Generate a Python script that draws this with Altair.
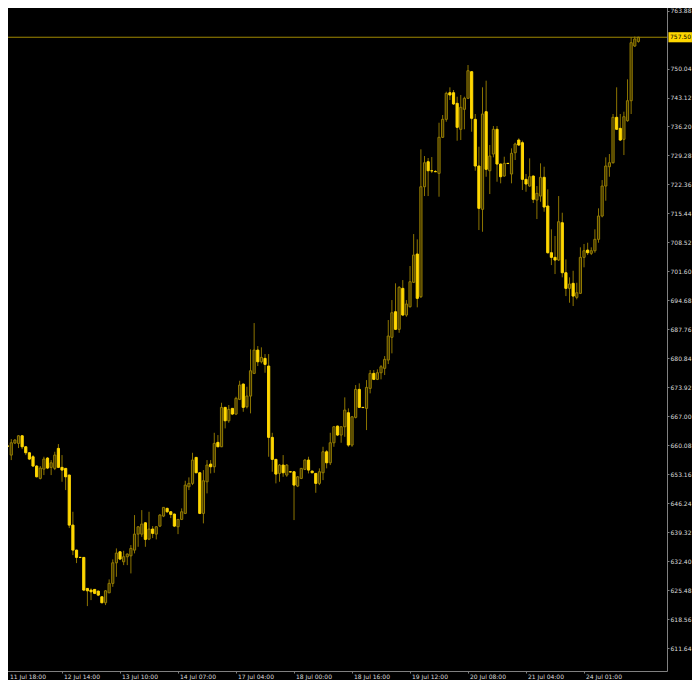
import altair as alt
import pandas as pd

# ---------------- data (H1 bars) ----------------
opens = [
    662.56, 660.72, 659.95, 657.78, 660.65, 660.57, 662.39, 659.76, 658.33, 657.38,
    655.16, 652.22, 654.44, 657.07, 654.85, 654.61, 659.38, 654.85, 654.61, 653.01,
    641.07, 635.10, 633.36, 633.36, 625.96, 625.56, 625.72, 625.32, 623.96, 622.53,
    624.91, 627.16, 632.07, 634.70, 632.31, 633.51, 633.74, 635.10, 638.92, 638.92,
    641.62, 637.73, 640.12, 638.92, 640.83, 643.22, 645.06, 644.25, 643.70, 640.67,
    642.43, 643.86, 650.21, 651.03, 657.23, 653.56, 643.86, 651.41, 655.63, 654.99,
    660.81, 659.76, 669.17, 665.97, 668.93, 667.57, 671.08, 674.73, 669.31, 671.86,
    677.28, 682.84, 680.05, 680.86, 679.03, 662.01, 656.76, 653.41, 655.40, 653.01,
    653.80, 653.80, 650.38, 652.22, 654.37, 656.59, 653.96, 653.41, 651.03, 653.56,
    658.57, 655.94, 660.72, 664.70, 662.56, 664.54, 667.88, 660.17, 666.78, 673.46,
    669.17, 668.93, 673.70, 677.28, 675.85, 677.43, 678.48, 680.46, 685.88, 691.99,
    687.79, 697.57, 691.20, 693.18, 699.01, 705.76, 695.57, 721.82, 727.79, 725.64,
    725.45, 725.02, 733.62, 737.91, 744.26, 744.26, 741.73, 735.53, 740.30, 742.93,
    749.28, 737.91, 726.77, 716.43, 739.73, 725.64, 729.63, 735.53, 727.24, 724.38,
    727.41, 724.86, 729.94, 732.97, 732.33, 723.59, 721.99, 724.38, 718.65, 719.60,
    724.07, 717.22, 706.07, 704.97, 704.33, 713.23, 701.30, 697.57, 698.77, 695.42,
    696.38, 704.97, 706.71, 705.93, 706.55, 709.27, 714.83, 721.99, 726.60, 727.55,
    738.39, 735.76, 733.14, 737.58, 742.35, 755.41, 756.50,
]
highs = [
    663.75, 661.36, 660.17, 661.60, 661.60, 662.56, 662.56, 659.93, 658.50, 657.78,
    655.40, 655.16, 657.38, 657.30, 656.59, 658.57, 660.41, 657.78, 654.68, 653.10,
    644.25, 635.20, 633.43, 633.43, 626.03, 625.96, 625.80, 625.44, 624.12, 625.56,
    628.11, 632.88, 635.51, 634.87, 634.94, 634.32, 636.30, 643.46, 640.83, 644.65,
    641.79, 644.25, 640.83, 640.83, 643.70, 645.37, 645.25, 644.41, 643.82, 642.50,
    645.06, 651.65, 652.46, 658.33, 657.30, 653.72, 654.20, 656.59, 656.59, 663.10,
    662.56, 670.27, 669.24, 669.72, 669.00, 671.70, 675.52, 674.85, 674.09, 683.01,
    689.29, 683.80, 683.49, 681.89, 681.89, 663.10, 656.83, 655.63, 657.78, 655.63,
    653.96, 653.96, 652.77, 654.68, 656.83, 657.38, 654.08, 653.48, 654.61, 659.76,
    658.97, 663.10, 664.70, 664.82, 664.70, 671.55, 668.93, 667.09, 674.49, 674.90,
    669.24, 675.68, 678.07, 678.07, 678.24, 679.26, 681.41, 690.01, 694.78, 698.77,
    698.12, 699.55, 694.78, 702.90, 710.53, 709.27, 730.75, 729.15, 728.68, 728.91,
    725.81, 737.10, 738.94, 744.50, 745.55, 744.91, 743.31, 743.71, 743.31, 750.87,
    749.44, 739.18, 731.37, 745.55, 747.13, 731.78, 736.31, 736.31, 727.36, 728.99,
    727.48, 730.99, 732.33, 733.38, 732.81, 724.86, 728.60, 724.50, 721.99, 727.41,
    726.60, 721.20, 711.66, 710.06, 719.60, 715.62, 704.49, 700.20, 701.77, 698.91,
    707.36, 708.15, 708.46, 707.36, 711.66, 716.67, 723.42, 728.84, 729.63, 739.18,
    745.55, 739.18, 739.73, 747.46, 757.49, 757.68, 757.60,
]
lows = [
    659.69, 659.21, 659.69, 656.59, 660.41, 659.45, 659.21, 657.78, 656.59, 654.92,
    652.46, 651.98, 653.01, 654.44, 653.01, 654.20, 654.68, 651.41, 649.43, 640.36,
    633.91, 632.00, 633.20, 625.32, 621.74, 623.17, 624.60, 624.12, 622.45, 621.98,
    624.84, 626.34, 628.73, 632.72, 631.52, 631.52, 629.54, 634.32, 635.89, 638.28,
    635.89, 637.49, 637.97, 637.66, 640.60, 642.98, 643.94, 642.74, 640.60, 638.92,
    642.27, 643.70, 649.43, 650.62, 653.48, 643.70, 641.48, 648.64, 653.41, 653.56,
    659.69, 659.69, 664.15, 665.49, 667.33, 667.33, 670.91, 668.12, 668.93, 667.74,
    677.12, 679.03, 679.67, 677.43, 657.38, 653.80, 651.03, 651.41, 652.60, 652.60,
    653.61, 642.27, 650.14, 652.05, 654.20, 653.41, 653.48, 648.78, 650.62, 651.81,
    654.61, 655.40, 659.76, 662.32, 660.72, 662.15, 659.76, 659.76, 666.54, 669.00,
    669.00, 663.75, 672.51, 675.68, 675.68, 675.85, 676.88, 679.50, 682.06, 687.62,
    686.97, 690.96, 690.79, 692.99, 698.84, 693.04, 695.26, 719.60, 719.60, 725.09,
    725.33, 719.44, 733.45, 737.34, 742.52, 741.33, 732.80, 732.97, 735.53, 742.76,
    734.95, 725.64, 711.49, 711.08, 724.21, 720.08, 728.84, 723.02, 722.64, 724.21,
    727.24, 722.64, 728.20, 731.54, 721.04, 720.63, 721.82, 717.93, 714.11, 718.24,
    715.86, 705.88, 703.13, 700.99, 704.09, 700.20, 695.73, 694.14, 693.35, 694.95,
    696.21, 702.59, 705.52, 705.52, 706.07, 708.46, 714.52, 718.48, 724.21, 727.36,
    735.36, 732.73, 729.39, 737.34, 739.18, 755.17, 756.20,
]
closes = [
    660.17, 659.76, 659.90, 660.72, 661.36, 662.39, 659.76, 658.33, 656.83, 655.16,
    652.60, 654.68, 656.83, 654.68, 655.94, 657.78, 654.85, 654.20, 652.60, 641.07,
    635.10, 633.36, 633.36, 625.56, 625.39, 625.15, 624.77, 624.36, 622.53, 625.39,
    627.16, 632.07, 634.39, 632.96, 633.51, 634.15, 635.51, 638.92, 640.67, 641.31,
    637.66, 640.12, 639.09, 640.67, 643.46, 645.30, 644.25, 643.63, 640.83, 642.43,
    644.25, 650.62, 651.03, 656.59, 653.56, 643.86, 651.65, 655.40, 654.99, 660.57,
    659.76, 669.17, 665.97, 668.69, 667.57, 671.32, 674.49, 669.17, 671.86, 677.90,
    682.84, 680.05, 681.10, 679.43, 662.01, 656.76, 653.25, 655.40, 653.56, 655.40,
    653.75, 650.62, 652.60, 654.61, 656.59, 654.20, 653.56, 651.03, 653.80, 658.57,
    655.94, 660.72, 664.54, 662.56, 664.54, 668.52, 660.17, 666.92, 673.46, 669.17,
    669.12, 673.94, 677.28, 675.85, 677.43, 678.86, 680.62, 686.19, 691.75, 687.79,
    697.81, 691.20, 693.83, 699.15, 705.52, 695.19, 721.82, 727.55, 725.64, 725.60,
    725.40, 733.62, 737.91, 744.12, 743.71, 741.57, 736.00, 740.78, 742.93, 749.51,
    738.15, 726.77, 716.67, 739.18, 725.98, 729.15, 735.53, 727.24, 724.21, 727.41,
    727.36, 729.80, 732.02, 731.78, 723.59, 722.47, 724.21, 718.82, 720.25, 724.07,
    716.98, 706.07, 704.97, 704.33, 713.47, 701.30, 697.57, 698.60, 695.73, 696.52,
    704.97, 706.55, 706.07, 706.55, 709.27, 714.83, 721.99, 726.77, 727.55, 738.39,
    735.53, 732.97, 738.53, 742.35, 756.20, 757.08, 757.50,
]

time_labels = [
    "11 Jul 18:00", "12 Jul 14:00", "13 Jul 10:00", "14 Jul 07:00",
    "17 Jul 04:00", "18 Jul 00:00", "18 Jul 16:00", "19 Jul 12:00",
    "20 Jul 08:00", "21 Jul 04:00", "24 Jul 01:00",
]
time_label_bars = [1, 17, 33, 49, 65, 81, 97, 113, 129, 145, 161]
price_ticks = [
    763.88, 750.04, 743.12, 736.20, 729.28, 722.36, 715.44, 708.52,
    701.60, 694.68, 687.76, 680.84, 673.92, 667.00, 660.08, 653.16,
    646.24, 639.32, 632.40, 625.48, 618.56, 611.64,
]
last_price = 757.50

# ---------------- styling ----------------
BG = "#000000"
WICK = "#8c7400"
BULL_FILL = "#3a3000"
BULL_EDGE = "#947c00"
BEAR_FILL = "#ffd700"
PRICE_LINE = "#a08800"
AXIS_COL = "#808080"
LABEL_COL = "#dcdcdc"
FONT = "DejaVu Sans"
FS = 6

PLOT_W, PLOT_H = 667, 671

df = pd.DataFrame({
    "i": list(range(len(opens))),
    "o": opens, "h": highs, "l": lows, "c": closes,
})
price_df = pd.DataFrame({"p": [last_price], "txt": [f"{last_price:.2f}"]})

x_scale = alt.Scale(domain=[-0.11, 183.89], nice=False, zero=False)
y_scale = alt.Scale(domain=[606.25, 766.39], nice=False, zero=False)

label_js = "[" + ",".join(f"'{t}'" for t in time_labels) + "]"
x_axis = alt.Axis(
    orient="bottom", values=time_label_bars,
    labelExpr=f"{label_js}[indexof({time_label_bars}, datum.value)]",
    labelAlign="left", labelBaseline="top", labelPadding=0,
    labelOffset={"condition": {"test": "datum.value == 1", "value": 5.5}, "value": 1.5},
    tickSize=2, tickColor=AXIS_COL, domainColor=AXIS_COL,
    labelFont=FONT, labelFontSize=FS, labelColor=LABEL_COL,
    grid=False, title=None, labelFlush=False, labelOverlap=False,
)
y_axis = alt.Axis(
    orient="right", values=price_ticks, format=".2f",
    labelBaseline="middle", labelPadding=1, tickSize=2,
    tickColor=AXIS_COL, domainColor=AXIS_COL,
    labelFont=FONT, labelFontSize=FS, labelColor=LABEL_COL,
    grid=False, title=None, labelFlush=False, labelOverlap=False,
)

base = alt.Chart(df)

wicks = base.mark_rule(color=WICK, strokeWidth=1).encode(
    x=alt.X("i:Q", scale=x_scale, axis=x_axis),
    y=alt.Y("l:Q", scale=y_scale, axis=y_axis),
    y2="h:Q",
)

up = "datum.c > datum.o"
bodies = base.transform_calculate(
    x0="datum.i - 0.3", x1="datum.i + 0.3"
).mark_rect(strokeWidth=1).encode(
    x=alt.X("x0:Q", scale=x_scale, axis=x_axis),
    x2="x1:Q",
    y=alt.Y("o:Q", scale=y_scale, axis=y_axis),
    y2="c:Q",
    fill=alt.condition(up, alt.value(BULL_FILL), alt.value(BEAR_FILL)),
    stroke=alt.condition(up, alt.value(BULL_EDGE), alt.value(BEAR_FILL)),
)

pbase = alt.Chart(price_df)
price_line = pbase.mark_rule(color=PRICE_LINE, strokeWidth=1).encode(
    y=alt.Y("p:Q", scale=y_scale, axis=y_axis),
)
price_box = pbase.mark_point(
    shape="M-1,-0.43L1,-0.43L1,0.43L-1,0.43Z", filled=True, size=552,
    color=BEAR_FILL, opacity=1, clip=False,
).encode(
    x=alt.value(PLOT_W + 13.2),
    y=alt.Y("p:Q", scale=y_scale, axis=y_axis),
)
price_text = pbase.mark_text(
    align="left", baseline="middle", color="#000000", font=FONT, fontSize=FS,
    clip=False,
).encode(
    x=alt.value(PLOT_W + 3),
    y=alt.Y("p:Q", scale=y_scale, axis=y_axis),
    text="txt:N",
)

chart = alt.layer(wicks, bodies, price_line, price_box, price_text).properties(
    width=PLOT_W, height=PLOT_H,
    background=BG,
    padding={"left": -8, "top": -8, "right": 684 - PLOT_W + 8, "bottom": 672 - PLOT_H + 8},
    autosize=alt.AutoSizeParams(type="none"),
).configure_view(stroke=None)

chart.save("out.html", embed_options={"renderer": "svg", "actions": False})
